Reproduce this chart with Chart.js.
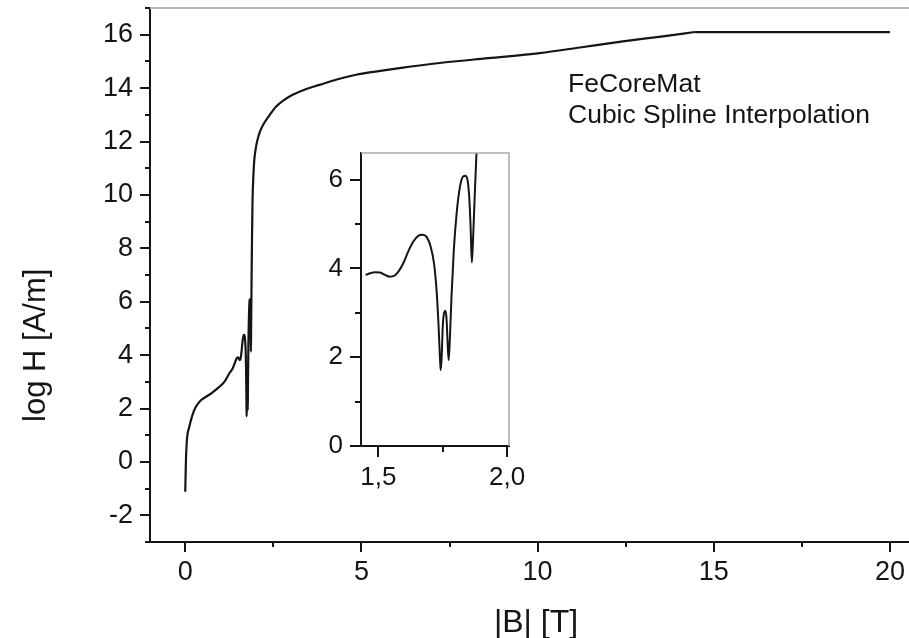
<!DOCTYPE html>
<html><head><meta charset="utf-8">
<script src="https://cdn.jsdelivr.net/npm/chart.js@4/dist/chart.umd.min.js"></script>
<style>
html,body{margin:0;padding:0;background:#fff;}
#wrap{position:relative;width:909px;height:638px;overflow:hidden;background:#fff;}
#main{position:absolute;left:0;top:0;}
#inset{position:absolute;left:290px;top:140px;}
</style></head><body>
<div id="wrap"><canvas id="main" width="909" height="638"></canvas><canvas id="inset" width="250" height="360"></canvas></div>
<script>
// ---- data ----
const bField = [0.000, 0.020, 0.047, 0.114, 0.190, 0.256, 0.350, 0.445, 0.590, 0.730, 0.966, 1.110, 1.250, 1.345,
  1.451, 1.468, 1.487, 1.507, 1.526, 1.545, 1.561, 1.578, 1.597, 1.616, 1.636, 1.655, 1.672, 1.688, 1.703, 1.716,
  1.726, 1.734, 1.739, 1.742, 1.746, 1.750, 1.755, 1.761, 1.765, 1.769, 1.773, 1.778, 1.784, 1.793, 1.804, 1.817,
  1.829, 1.839, 1.847, 1.853, 1.858, 1.863, 1.868, 1.875, 1.881, 1.895, 1.910, 1.930, 1.960, 2.010, 2.050, 2.120,
  2.240, 2.400, 2.580, 2.800, 3.050, 3.400, 3.810, 4.300, 4.850, 5.400, 6.080, 7.220, 8.600, 10.06, 11.20, 12.42,
  13.50, 14.46, 20.00];
const logH = [-1.12, 0.06, 0.81, 1.31, 1.69, 1.94, 2.16, 2.31, 2.44, 2.56, 2.81, 3.00, 3.31, 3.50,
  3.853, 3.891, 3.914, 3.906, 3.853, 3.815, 3.831, 3.928, 4.117, 4.379, 4.605, 4.734, 4.756, 4.704, 4.492, 4.117,
  3.515, 2.686, 2.009, 1.709, 2.009, 2.686, 2.989, 3.047, 2.837, 2.311, 1.935, 2.461, 3.364, 4.418, 5.246, 5.847,
  6.072, 6.088, 5.960, 5.585, 4.944, 4.131, 4.718, 5.772, 6.614, 8.40, 9.80, 10.60, 11.31, 11.81, 12.06, 12.37,
  12.69, 13.00, 13.31, 13.55, 13.75, 13.95, 14.12, 14.32, 14.50, 14.62, 14.75, 14.94, 15.12, 15.31, 15.52, 15.75,
  15.93, 16.10, 16.10];
const saturationB = 14.46;   // above this the curve is a flat straight line
const insetStartB = 1.45;    // the inset shows the curve from here on

const mainXTicks  = [0, 2.5, 5, 7.5, 10, 12.5, 15, 17.5, 20];
const mainXLabels = ['0', '', '5', '', '10', '', '15', '', '20'];
const mainYTicks  = [-3, -2, -1, 0, 1, 2, 3, 4, 5, 6, 7, 8, 9, 10, 11, 12, 13, 14, 15, 16, 17];
const mainYLabels = ['', '-2', '', '0', '', '2', '', '4', '', '6', '', '8', '', '10', '', '12', '', '14', '', '16', ''];
const insetXTicks  = [1.5, 1.75, 2.0];
const insetXLabels = ['1,5', '', '2,0'];
const insetYTicks  = [0, 1, 2, 3, 4, 5, 6];
const insetYLabels = ['0', '', '2', '', '4', '', '6'];

const xTitle = '|B| [T]';
const yTitle = 'log H [A/m]';
const noteLines = ['FeCoreMat', 'Cubic Spline Interpolation'];

// ---- drawing ----
const FONT = "'Liberation Sans', Arial, Helvetica, sans-serif";
const INK = '#151515';
const allPoints = bField.map((b, i) => ({x: b, y: logH[i]}));
const curvePts = allPoints.filter(p => p.x <= saturationB);
const flatPts = allPoints.filter(p => p.x >= saturationB);

const framePlugin = {
  id: 'frame',
  afterDraw(chart, args, o) {
    const {ctx, chartArea: a, scales: {x, y}} = chart;
    ctx.save();
    ctx.strokeStyle = o.gray; ctx.lineWidth = o.grayWidth; ctx.lineCap = 'butt';
    ctx.beginPath();
    ctx.moveTo(a.left, a.top); ctx.lineTo(a.right, a.top);
    if (o.rightBorder) ctx.lineTo(a.right, a.bottom);
    ctx.stroke();
    ctx.strokeStyle = INK; ctx.lineWidth = 2;
    o.xTicks.forEach((v, i) => {
      const px = Math.round(x.getPixelForValue(v));
      const len = o.xLabels[i] ? o.major : o.minor;
      ctx.beginPath(); ctx.moveTo(px, a.bottom); ctx.lineTo(px, a.bottom + len); ctx.stroke();
    });
    o.yTicks.forEach((v, i) => {
      const py = Math.round(y.getPixelForValue(v));
      const len = o.yLabels[i] ? o.major : o.minor;
      ctx.beginPath(); ctx.moveTo(a.left, py); ctx.lineTo(a.left - len, py); ctx.stroke();
    });
    ctx.fillStyle = INK;
    if (o.titles) {
      ctx.font = '32px ' + FONT;
      ctx.textAlign = 'center'; ctx.textBaseline = 'alphabetic';
      ctx.fillText(xTitle, 536, 632);
      ctx.save();
      ctx.translate(45, 422); ctx.rotate(-Math.PI / 2);
      ctx.font = '31px ' + FONT; ctx.textAlign = 'left';
      ctx.fillText(yTitle, 0, 0);
      ctx.restore();
      ctx.font = '26.5px ' + FONT; ctx.textAlign = 'left';
      ctx.fillText(noteLines[0], 568, 92);
      ctx.fillText(noteLines[1], 568, 123);
    }
    ctx.restore();
  }
};

function makeChart(id, cfg) {
  const setTicks = (vals) => (s) => { s.ticks = vals.map(v => ({value: v})); };
  const fixX = (h) => (s) => { s.height = h; s.paddingLeft = 0; s.paddingRight = 0; };
  const fixY = (w) => (s) => { s.width = w; s.paddingTop = 0; s.paddingBottom = 0; };
  return new Chart(document.getElementById(id), {
    type: 'line',
    data: {datasets: [
      {data: cfg.curve, borderColor: INK, borderWidth: cfg.lw, pointRadius: 0,
        cubicInterpolationMode: 'monotone', fill: false},
      {data: cfg.flat, borderColor: INK, borderWidth: cfg.lw, pointRadius: 0, tension: 0, fill: false}
    ]},
    options: {
      responsive: false, devicePixelRatio: 1, animation: false,
      layout: {padding: cfg.padding},
      plugins: {legend: {display: false}, tooltip: {enabled: false},
        frame: {gray: cfg.gray, grayWidth: cfg.grayWidth, rightBorder: cfg.rightBorder,
          xTicks: cfg.xTicks, xLabels: cfg.xLabels, yTicks: cfg.yTicks, yLabels: cfg.yLabels,
          major: cfg.major, minor: cfg.minor, titles: cfg.titles}},
      scales: {
        x: {type: 'linear', min: cfg.xMin, max: cfg.xMax,
          afterBuildTicks: setTicks(cfg.xTicks), afterFit: fixX(cfg.xH),
          border: {display: true, color: INK, width: 2},
          grid: {display: true, drawOnChartArea: false, drawTicks: true, tickLength: cfg.major, tickColor: 'rgba(0,0,0,0)'},
          ticks: {autoSkip: false, maxRotation: 0, padding: cfg.xPad, color: INK, font: {family: FONT, size: cfg.fs},
            callback: (v, i) => cfg.xLabels[i]}},
        y: {type: 'linear', min: cfg.yMin, max: cfg.yMax,
          afterBuildTicks: setTicks(cfg.yTicks), afterFit: fixY(cfg.yW),
          border: {display: true, color: INK, width: 2},
          grid: {display: true, drawOnChartArea: false, drawTicks: true, tickLength: cfg.major, tickColor: 'rgba(0,0,0,0)'},
          ticks: {autoSkip: false, padding: cfg.yPad, color: INK, font: {family: FONT, size: cfg.fs},
            callback: (v, i) => cfg.yLabels[i]}}
      }
    },
    plugins: [framePlugin]
  });
}

makeChart('main', {
  curve: curvePts, flat: flatPts,
  lw: 2.2, padding: {top: 8, left: 0, right: 0, bottom: 0},
  gray: '#b5b5b5', grayWidth: 2, rightBorder: false,
  xTicks: mainXTicks, xLabels: mainXLabels, yTicks: mainYTicks, yLabels: mainYLabels,
  major: 10, minor: 5, titles: true,
  xMin: -1, xMax: 20.54, yMin: -3, yMax: 17, xH: 96, yW: 150,
  xPad: 4, yPad: 7, fs: 27
});

makeChart('inset', {
  curve: curvePts.filter(p => p.x >= insetStartB), flat: [],
  lw: 2, padding: {top: 13, left: 0, right: 31, bottom: 0},
  gray: '#aaaaaa', grayWidth: 1.5, rightBorder: true,
  xTicks: insetXTicks, xLabels: insetXLabels, yTicks: insetYTicks, yLabels: insetYLabels,
  major: 11, minor: 6, titles: false,
  xMin: 1.433, xMax: 2.007, yMin: 0, yMax: 6.6, xH: 54, yW: 71,
  xPad: 5, yPad: 7, fs: 26
});
</script>
</body></html>
